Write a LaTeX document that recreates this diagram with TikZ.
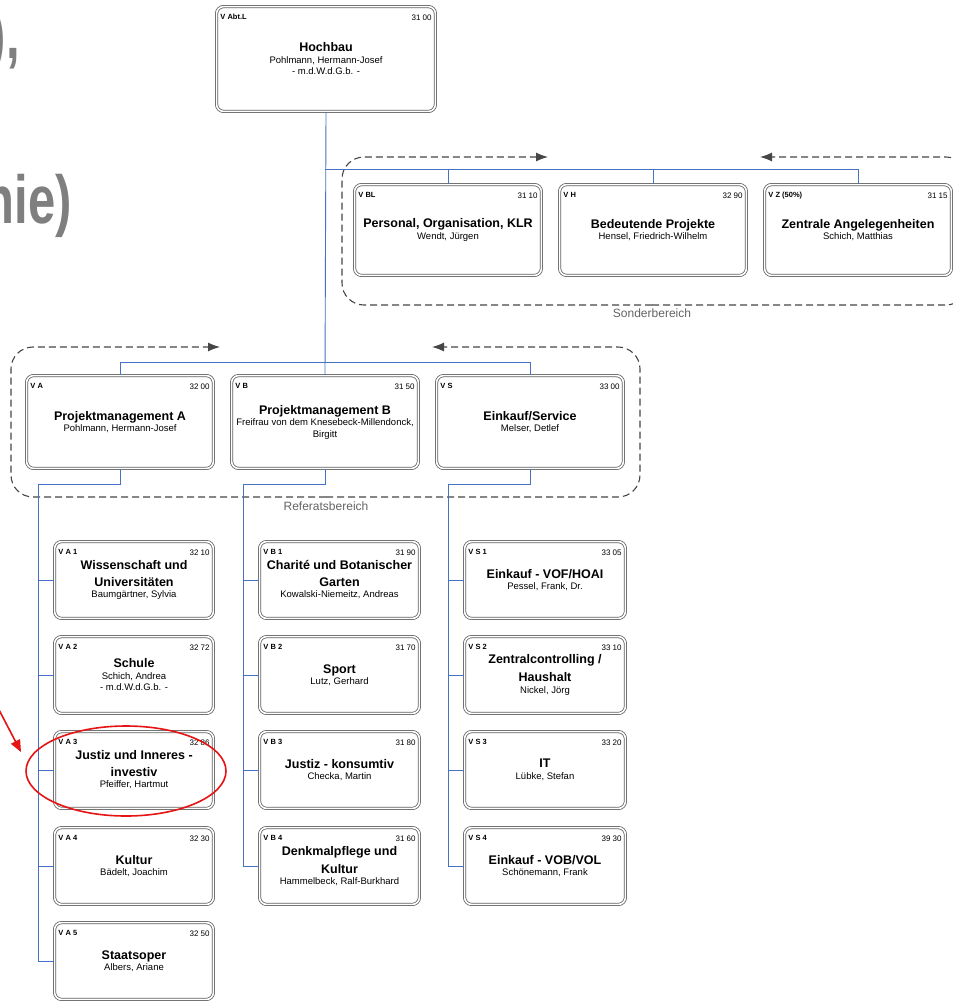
\documentclass[tikz,border=0pt]{standalone}
\usepackage{fontspec}
\setmainfont{Liberation Sans}
\usepackage{graphicx}
\usetikzlibrary{arrows.meta,calc}
\definecolor{conn}{RGB}{70,114,196}
\definecolor{frm}{RGB}{70,70,70}
\definecolor{bigg}{RGB}{127,127,127}
\definecolor{lblg}{RGB}{100,100,100}
\definecolor{redm}{RGB}{230,20,20}
\definecolor{bord}{RGB}{95,95,95}
\newcommand{\ttl}{\bfseries\fontsize{12.5}{15}\selectfont}
\newcommand{\nmf}{\mdseries\fontsize{9.5}{11.5}\selectfont}
\newcommand{\obx}[8]{\node[obox, minimum width=#4-3.2, minimum height=#5-3.2,
  label={[codel]north west:#6}, label={[numl]north east:#7}] (#1) at (#2,#3) {#8};}
\tikzset{
 obox/.style={draw=bord, double=white, double distance=1.6pt, line width=0.75pt,
   rounded corners=7pt, align=center, inner sep=2pt, fill=white, font=\nmf},
 codel/.style={anchor=north west, font=\bfseries\fontsize{7.5}{9}\selectfont, inner sep=0pt, xshift=4pt, yshift=-8pt},
 numl/.style={anchor=north east, font=\fontsize{8}{9}\selectfont, inner sep=0pt, xshift=-4pt, yshift=-8pt},
 conline/.style={draw=conn, line width=0.9pt},
 dframe/.style={draw=frm, line width=1.1pt, dash pattern=on 7pt off 4pt, rounded corners=22pt},
 tip/.style={-{Latex[length=12pt,width=9pt]}},
 area/.style={text=lblg, font=\fontsize{12}{14}\selectfont},
 bigtxt/.style={text=bigg, font=\bfseries\fontsize{68}{70}\selectfont, inner sep=0pt},
}
\begin{document}
\begin{tikzpicture}[x=1pt,y=-1pt]
\useasboundingbox (0,0) rectangle (953,1002);
\fill[white] (0,0) rectangle (953,1002);

% big gray fragments
\node[bigtxt, anchor=base east] (t1) at (20,58) {\scalebox{0.72}[1]{),}};
\node[bigtxt, anchor=base east] (t2) at (72,223) {\scalebox{0.72}[1]{nie)}};

% dashed area frames
\draw[dframe,tip] (652,305) -- (342,305) -- (342,157) -- (548,157);
\draw[dframe,tip] (652,305) -- (968,305) -- (968,157) -- (760,157);
\node[area] (sblab) at (652,313) {Sonderbereich};
\draw[dframe,tip] (326,497) -- (11,497) -- (11,347) -- (220,347);
\draw[dframe,tip] (326,497) -- (640,497) -- (640,347) -- (432,347);
\node[area] (rblab) at (326,506) {Referatsbereich};

% top box
\obx{hb}{326}{59}{222}{108}{V Abt.L}{31 00}{\ttl Hochbau\\Pohlmann, Hermann-Josef\\- m.d.W.d.G.b. -}

% Sonderbereich
\obx{vbl}{448}{230}{190}{94}{V BL}{31 10}{\ttl Personal, Organisation, KLR\\Wendt, Jürgen}
\obx{vh}{653}{230}{190}{94}{V H}{32 90}{\ttl Bedeutende Projekte\\Hensel, Friedrich-Wilhelm}
\obx{vz}{858}{230}{190}{94}{V Z (50\%)}{31 15}{\ttl Zentrale Angelegenheiten\\Schich, Matthias}

% Referatsbereich
\obx{va}{120}{422}{190}{96}{V A}{32 00}{\ttl Projektmanagement A\\Pohlmann, Hermann-Josef}
\obx{vb}{325}{422}{190}{96}{V B}{31 50}{\ttl Projektmanagement B\\Freifrau von dem Knesebeck-Millendonck,\\Birgitt}
\obx{vs}{530}{422}{190}{96}{V S}{33 00}{\ttl Einkauf/Service\\Melser, Detlef}

% column A
\obx{va1}{134}{580}{162}{80}{V A 1}{32 10}{\ttl Wissenschaft und\\[5pt]\ttl Universitäten\\Baumgärtner, Sylvia}
\obx{va2}{134}{675}{162}{80}{V A 2}{32 72}{\ttl Schule\\Schich, Andrea\\- m.d.W.d.G.b. -}
\obx{va3}{134}{770}{162}{80}{V A 3}{32 86}{\ttl Justiz und Inneres -\\[5pt]\ttl investiv\\Pfeiffer, Hartmut}
\obx{va4}{134}{866}{162}{80}{V A 4}{32 30}{\ttl Kultur\\Bädelt, Joachim}
\obx{va5}{134}{961}{162}{80}{V A 5}{32 50}{\ttl Staatsoper\\Albers, Ariane}

% column B
\obx{vb1}{339.5}{580}{163}{80}{V B 1}{31 90}{\ttl Charité und Botanischer\\[5pt]\ttl Garten\\Kowalski-Niemeitz, Andreas}
\obx{vb2}{339.5}{675}{163}{80}{V B 2}{31 70}{\ttl Sport\\Lutz, Gerhard}
\obx{vb3}{339.5}{770}{163}{80}{V B 3}{31 80}{\ttl Justiz - konsumtiv\\Checka, Martin}
\obx{vb4}{339.5}{866}{163}{80}{V B 4}{31 60}{\ttl Denkmalpflege und\\[5pt]\ttl Kultur\\Hammelbeck, Ralf-Burkhard}

% column S
\obx{vs1}{545}{580}{164}{80}{V S 1}{33 05}{\ttl Einkauf - VOF/HOAI\\Pessel, Frank, Dr.}
\obx{vs2}{545}{675}{164}{80}{V S 2}{33 10}{\ttl Zentralcontrolling /\\[5pt]\ttl Haushalt\\Nickel, Jörg}
\obx{vs3}{545}{770}{164}{80}{V S 3}{33 20}{\ttl IT\\Lübke, Stefan}
\obx{vs4}{545}{866}{164}{80}{V S 4}{39 30}{\ttl Einkauf - VOB/VOL\\Schönemann, Frank}

% connectors
\coordinate (sbus) at (325,169);
\coordinate (rbus) at (325,362);
\draw[conline] (hb.south) -- (vb.north);
\draw[conline] (vbl.north) |- (sbus);
\draw[conline] (vh.north) -- (vh.north |- sbus);
\draw[conline] (vz.north) |- (sbus);
\draw[conline] (va.north) |- (rbus);
\draw[conline] (vs.north) |- (rbus);

\coordinate (abus) at (38,484);
\coordinate (bbus) at (243,484);
\coordinate (cbus) at (448,484);
\draw[conline] (va.south) |- (abus) |- (va5.west);
\foreach \n in {1,...,4} \draw[conline] (va\n.west) -- (va\n.west -| abus);
\draw[conline] (vb.south) |- (bbus) |- (vb4.west);
\foreach \n in {1,...,3} \draw[conline] (vb\n.west) -- (vb\n.west -| bbus);
\draw[conline] (vs.south) |- (cbus) |- (vs4.west);
\foreach \n in {1,...,3} \draw[conline] (vs\n.west) -- (vs\n.west -| cbus);

% red annotation
\draw[redm, line width=1.6pt] (126,771) ellipse [x radius=100pt, y radius=45pt];
\coordinate (rs) at (-3,706);
\coordinate (re) at (21,752);
\draw[redm, line width=1.6pt, -{Triangle[length=12pt,width=10pt]}] (rs) -- (re);
\end{tikzpicture}
\end{document}
